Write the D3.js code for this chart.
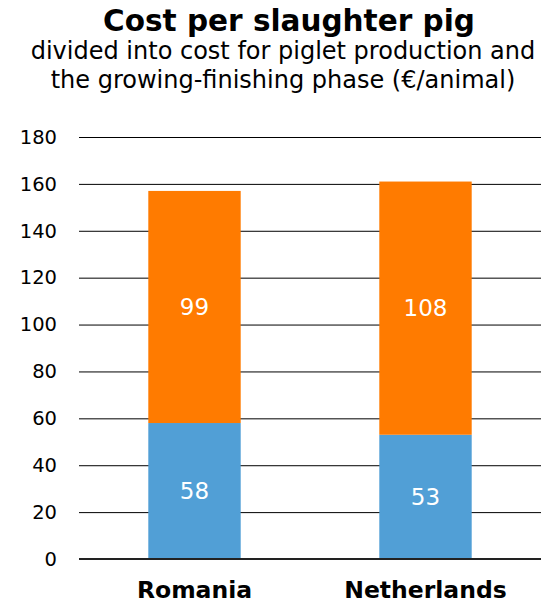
<!DOCTYPE html>
<html>
<head>
<meta charset="utf-8">
<script src="https://cdn.jsdelivr.net/npm/d3@7"></script>
<style>
  html, body { margin: 0; padding: 0; background: #fff; }
  svg { display: block; font-family: "DejaVu Sans", Verdana, sans-serif; }
</style>
</head>
<body>
<svg id="chart" width="548" height="606"></svg>
<script>
// Cost components per slaughter pig (€/animal)
const countries = ["Romania", "Netherlands"];
const pigletCost = [58, 53];
const finishingCost = [99, 108];
const yTicks = [0, 20, 40, 60, 80, 100, 120, 140, 160, 180];

const title = "Cost per slaughter pig";
const subtitle = ["divided into cost for piglet production and", "the growing-finishing phase (€/animal)"];

const colors = { piglet: "#519fd6", finishing: "#ff7b00" };

const svg = d3.select("#chart");
const plot = { left: 79, right: 541, top: 137, bottom: 559 };

const x = d3.scaleBand()
  .domain(countries)
  .range([plot.left, plot.right])
  .paddingInner(0.6)
  .paddingOuter(0.3);

const y = d3.scaleLinear()
  .domain([0, 180])
  .range([plot.bottom, plot.top]);

// Title block
svg.append("text")
  .attr("x", 289).attr("y", 31)
  .attr("text-anchor", "middle")
  .attr("font-size", 29.5).attr("font-weight", "bold")
  .attr("fill", "#000")
  .text(title);

subtitle.forEach((line, i) => {
  svg.append("text")
    .attr("x", 283).attr("y", 59 + i * 29)
    .attr("text-anchor", "middle")
    .attr("font-size", 24)
    .attr("fill", "#000")
    .text(line);
});

// Horizontal gridlines with left tick labels
const yAxis = d3.axisLeft(y)
  .tickValues(yTicks)
  .tickSize(-(plot.right - plot.left))
  .tickPadding(22)
  .tickFormat(d3.format("d"));

const gy = svg.append("g")
  .attr("transform", `translate(${plot.left},0)`)
  .call(yAxis);
gy.select(".domain").remove();
gy.selectAll(".tick line").attr("stroke", "#000").attr("stroke-width", 1);
gy.selectAll(".tick text")
  .attr("font-size", 19.5)
  .attr("font-family", "DejaVu Sans, Verdana, sans-serif")
  .attr("fill", "#000");

// Stacked bars
const stackData = countries.map((c, i) => ({ country: c, piglet: pigletCost[i], finishing: finishingCost[i] }));
const series = d3.stack().keys(["piglet", "finishing"])(stackData);

const layers = svg.append("g").selectAll("g")
  .data(series)
  .join("g")
  .attr("fill", d => colors[d.key]);

layers.selectAll("rect")
  .data(d => d)
  .join("rect")
  .attr("x", d => x(d.data.country))
  .attr("width", x.bandwidth())
  .attr("y", d => y(d[1]))
  .attr("height", d => y(d[0]) - y(d[1]));

// Segment value labels
layers.selectAll("text")
  .data(d => d.map(s => ({ s, key: d.key })))
  .join("text")
  .attr("x", d => x(d.s.data.country) + x.bandwidth() / 2)
  .attr("y", d => (y(d.s[0]) + y(d.s[1])) / 2)
  .attr("dy", "0.36em")
  .attr("text-anchor", "middle")
  .attr("font-size", 23)
  .attr("fill", "#fff")
  .text(d => d.s.data[d.key]);

// Baseline axis
svg.append("line")
  .attr("x1", plot.left).attr("x2", plot.right)
  .attr("y1", y(0)).attr("y2", y(0))
  .attr("stroke", "#222").attr("stroke-width", 2);

// Category labels
const xAxis = d3.axisBottom(x).tickSize(0).tickPadding(22);
const gx = svg.append("g")
  .attr("transform", `translate(0,${y(0)})`)
  .call(xAxis);
gx.select(".domain").remove();
gx.selectAll(".tick text")
  .attr("font-size", 23.5)
  .attr("font-weight", "bold")
  .attr("font-family", "DejaVu Sans, Verdana, sans-serif")
  .attr("fill", "#000");
</script>
</body>
</html>
